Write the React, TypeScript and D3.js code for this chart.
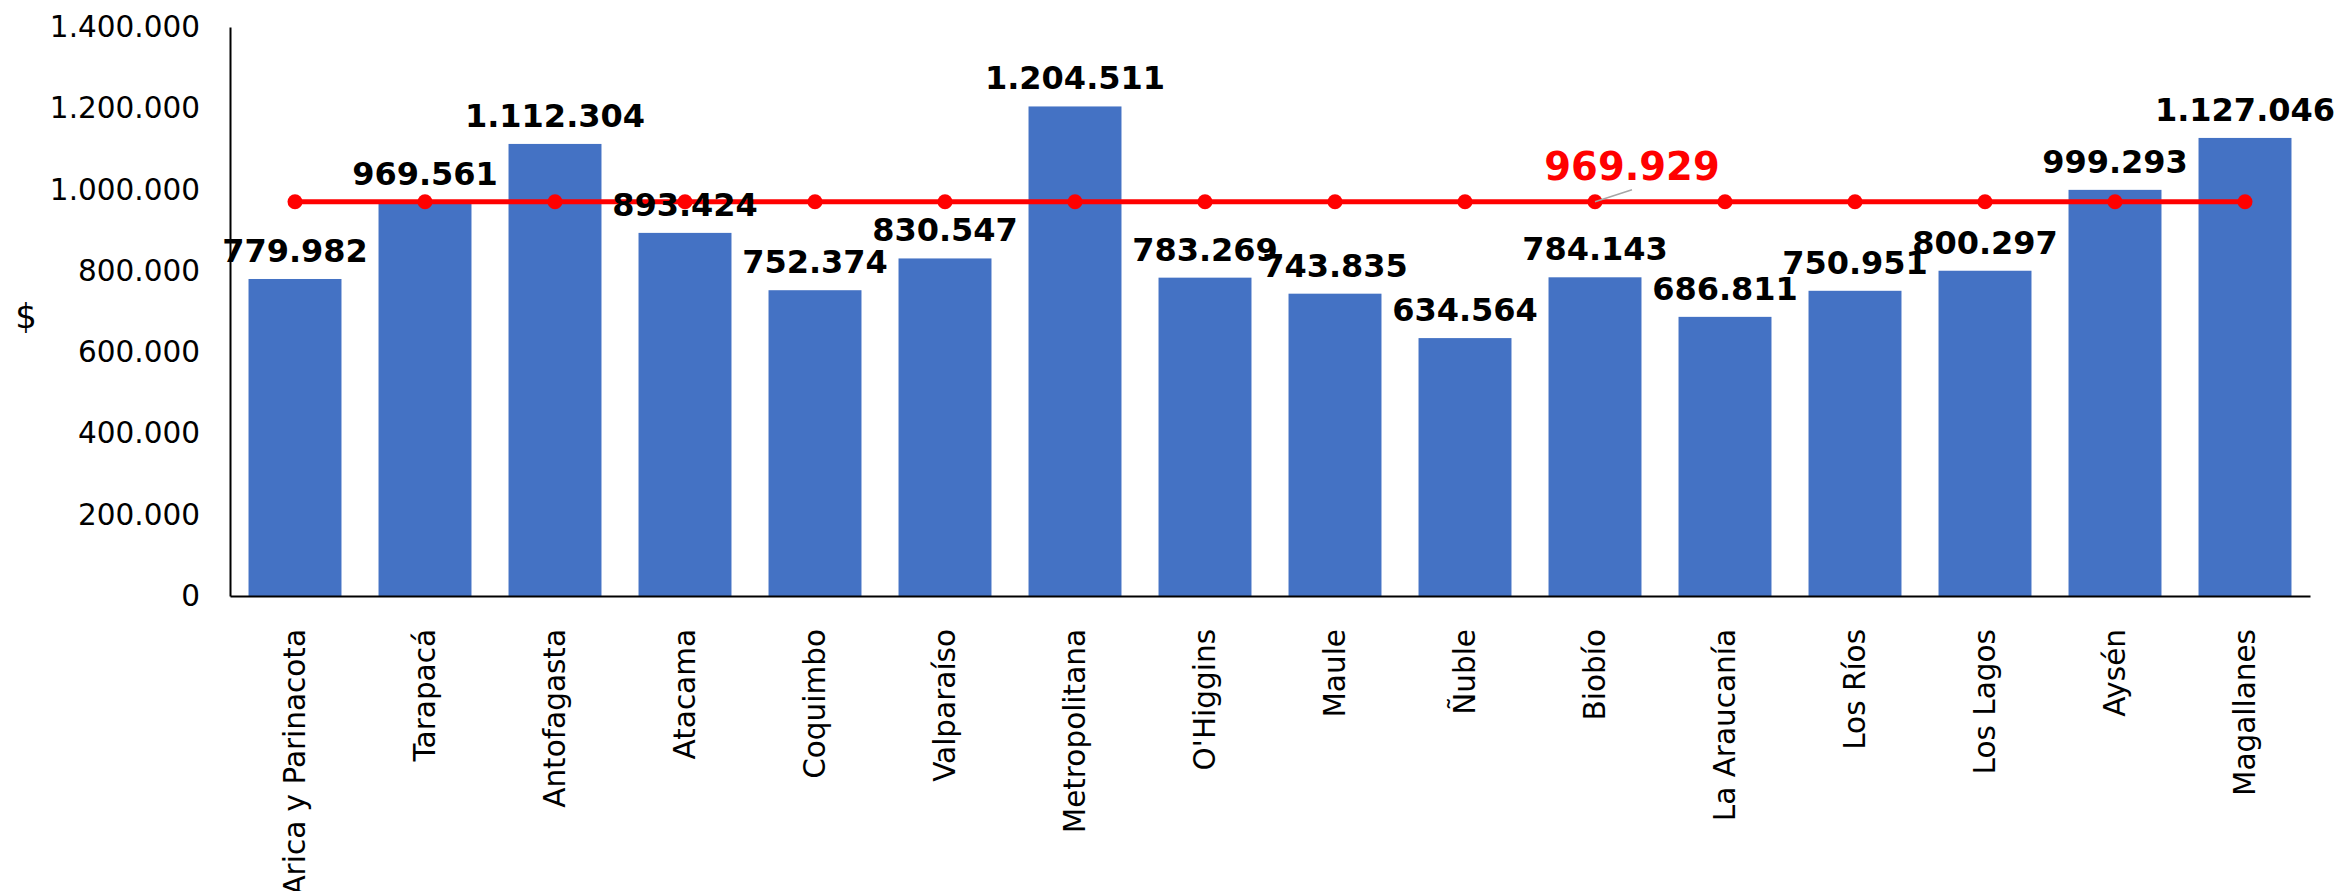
import React, { useEffect, useRef } from "react";
import * as d3 from "d3";

const regions = [
  "Arica y Parinacota",
  "Tarapacá",
  "Antofagasta",
  "Atacama",
  "Coquimbo",
  "Valparaíso",
  "Metropolitana",
  "O'Higgins",
  "Maule",
  "Ñuble",
  "Biobío",
  "La Araucanía",
  "Los Ríos",
  "Los Lagos",
  "Aysén",
  "Magallanes",
];

const incomes = [
  779982, 969561, 1112304, 893424, 752374, 830547, 1204511, 783269, 743835,
  634564, 784143, 686811, 750951, 800297, 999293, 1127046,
];

// national average, same value for every region
const nationalAvg = [
  969929, 969929, 969929, 969929, 969929, 969929, 969929, 969929, 969929,
  969929, 969929, 969929, 969929, 969929, 969929, 969929,
];

const yTicks = [0, 200000, 400000, 600000, 800000, 1000000, 1200000, 1400000];
const avgLabelIndex = 10;

const fmt = (v: number) => d3.format(",")(v).replace(/,/g, ".");

const App = () => {
  const chartRef = useRef<SVGSVGElement>(null);

  const drawChart = () => {
    const svg = d3.select(chartRef.current);
    svg.selectAll("*").remove();

    const width = 2336;
    const height = 891;
    const left = 230;
    const right = 2310;
    const top = 27;
    const bottom = 596;
    const font = "'DejaVu Sans', Verdana, sans-serif";

    svg.attr("width", width).attr("height", height);

    const x = d3
      .scaleBand()
      .domain(regions)
      .range([left, right])
      .paddingInner(0.285)
      .paddingOuter(0.1425);

    const y = d3.scaleLinear().domain([0, 1400000]).range([bottom, top]);

    // bars
    svg
      .append("g")
      .selectAll("rect")
      .data(incomes)
      .join("rect")
      .attr("x", (d, i) => x(regions[i])!)
      .attr("y", (d) => y(d))
      .attr("width", x.bandwidth())
      .attr("height", (d) => y(0) - y(d))
      .attr("fill", "#4472C4");

    // y axis
    const yAxis = d3
      .axisLeft(y)
      .tickValues(yTicks)
      .tickSize(0)
      .tickPadding(30)
      .tickFormat((d) => fmt(d as number));
    const gy = svg
      .append("g")
      .attr("transform", `translate(${left},0)`)
      .call(yAxis);
    gy.select(".domain").attr("stroke", "#000").attr("stroke-width", 2);
    gy.selectAll("text")
      .attr("font-family", font)
      .attr("font-size", 29.5)
      .attr("fill", "#000");

    // x axis
    const xAxis = d3.axisBottom(x).tickSize(0).tickPadding(0);
    const gx = svg
      .append("g")
      .attr("transform", `translate(0,${bottom})`)
      .call(xAxis);
    gx.select(".domain").attr("stroke", "#000").attr("stroke-width", 2);
    gx.selectAll("text")
      .attr("font-family", font)
      .attr("font-size", 29.5)
      .attr("fill", "#000")
      .attr("text-anchor", "end")
      .attr("dy", "0.35em")
      .attr("transform", "translate(0,33) rotate(-90)")
      .attr("y", 0)
      .attr("x", 0);

    // y axis title
    svg
      .append("text")
      .attr("x", 26)
      .attr("y", 328)
      .attr("text-anchor", "middle")
      .attr("font-family", font)
      .attr("font-size", 34)
      .attr("fill", "#000")
      .text("$");

    // average line
    const cx = (i: number) => x(regions[i])! + x.bandwidth() / 2;
    const line = d3
      .line<number>()
      .x((d, i) => cx(i))
      .y((d) => y(d));
    svg
      .append("path")
      .datum(nationalAvg)
      .attr("d", line)
      .attr("fill", "none")
      .attr("stroke", "#FF0000")
      .attr("stroke-width", 5);
    svg
      .append("g")
      .selectAll("circle")
      .data(nationalAvg)
      .join("circle")
      .attr("cx", (d, i) => cx(i))
      .attr("cy", (d) => y(d))
      .attr("r", 7.5)
      .attr("fill", "#FF0000");

    // bar labels
    svg
      .append("g")
      .selectAll("text")
      .data(incomes)
      .join("text")
      .attr("x", (d, i) => cx(i))
      .attr("y", (d) => y(d) - 17)
      .attr("text-anchor", "middle")
      .attr("font-family", font)
      .attr("font-weight", "bold")
      .attr("font-size", 32)
      .attr("fill", "#000")
      .text((d) => fmt(d));

    // average label with leader line
    const ax = cx(avgLabelIndex);
    const ay = y(nationalAvg[avgLabelIndex]);
    svg
      .append("line")
      .attr("x1", ax)
      .attr("y1", ay)
      .attr("x2", ax + 37)
      .attr("y2", ay - 12)
      .attr("stroke", "#A6A6A6")
      .attr("stroke-width", 1.5);
    svg
      .append("text")
      .attr("x", ax + 37)
      .attr("y", ay - 22)
      .attr("text-anchor", "middle")
      .attr("font-family", font)
      .attr("font-weight", "bold")
      .attr("font-size", 38.5)
      .attr("fill", "#FF0000")
      .text(fmt(nationalAvg[avgLabelIndex]));
  };

  useEffect(() => {
    drawChart();
  }, []);

  return (
    <svg
      ref={chartRef}
      style={{ position: "absolute", left: 0, top: 0, background: "#fff" }}
    ></svg>
  );
};

export default App;
